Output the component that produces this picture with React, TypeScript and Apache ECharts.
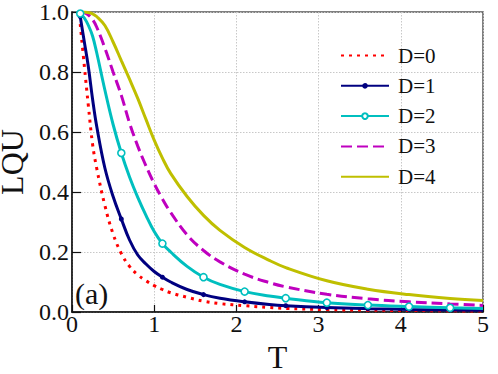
import React, { useEffect, useRef } from "react";
import * as echarts from "echarts";

const tValues = [0.1, 0.15, 0.2, 0.25, 0.3, 0.4, 0.5, 0.6, 0.7, 0.8, 0.9, 1.0, 1.1, 1.2, 1.4, 1.6, 1.8, 2.1, 2.4, 2.6, 3.1, 3.6, 4.1, 4.6, 5.0];
const lquD0 = [0.96, 0.82, 0.685, 0.56, 0.48, 0.355, 0.26, 0.195, 0.152, 0.124, 0.104, 0.088, 0.075, 0.064, 0.049, 0.036, 0.028, 0.021, 0.015, 0.012, 0.008, 0.006, 0.005, 0.004, 0.003];
const lquD1 = [0.985, 0.9, 0.815, 0.71, 0.62, 0.48, 0.385, 0.31, 0.24, 0.19, 0.16, 0.135, 0.116, 0.1, 0.075, 0.058, 0.046, 0.034, 0.025, 0.021, 0.015, 0.0112, 0.0086, 0.0069, 0.0058];
const lquD2 = [0.995, 0.98, 0.955, 0.92, 0.865, 0.74, 0.625, 0.53, 0.45, 0.382, 0.322, 0.268, 0.228, 0.2, 0.152, 0.116, 0.092, 0.068, 0.053, 0.046, 0.031, 0.023, 0.018, 0.014, 0.012];
const lquD3 = [1.0, 0.998, 0.99, 0.975, 0.95, 0.88, 0.8, 0.722, 0.63, 0.553, 0.487, 0.428, 0.377, 0.332, 0.257, 0.205, 0.167, 0.126, 0.098, 0.084, 0.059, 0.044, 0.034, 0.027, 0.022];
const lquD4 = [1.0, 1.0, 0.998, 0.994, 0.985, 0.955, 0.9, 0.838, 0.776, 0.712, 0.642, 0.573, 0.513, 0.462, 0.385, 0.322, 0.272, 0.215, 0.172, 0.148, 0.104, 0.076, 0.058, 0.045, 0.038];
const markerT = [0.1, 0.6, 1.1, 1.6, 2.1, 2.6, 3.1, 3.6, 4.1, 4.6];
const seriesNames = ["D=0", "D=1", "D=2", "D=3", "D=4"];
const xTicks = [0, 1, 2, 3, 4, 5];
const yTicks = [0, 0.2, 0.4, 0.6, 0.8, 1.0];

const FONT = "Liberation Serif";

function buildData(values: number[], withMarkers: boolean) {
  return tValues.map((t, i) => {
    const isMarker = withMarkers && markerT.some((m) => Math.abs(m - t) < 1e-9);
    return isMarker ? { value: [t, values[i]] } : { value: [t, values[i]], symbol: "none" };
  });
}

export default function App() {
  const ref = useRef<HTMLDivElement>(null);
  useEffect(() => {
    if (!ref.current) return;
    const chart = echarts.init(ref.current, null, { renderer: "svg" });
    const baseLine = { type: "line", smooth: 0.4, showAllSymbol: true, z: 2 };
    chart.setOption({
      animation: false,
      backgroundColor: "#ffffff",
      textStyle: { fontFamily: FONT, color: "#111" },
      grid: {
        left: 72,
        top: 12,
        right: 15,
        bottom: 62,
        outerBoundsMode: "none",
        containLabel: false,
        show: true,
        borderColor: "#555",
        borderWidth: 1.5,
        backgroundColor: "transparent",
      },
      legend: {
        orient: "vertical",
        left: 335,
        top: 40,
        itemWidth: 48,
        itemHeight: 7,
        itemGap: 9.3,
        data: seriesNames.map((n, i) => ({
          name: n,
          itemStyle: i === 1 || i === 2 ? undefined : { opacity: 0 },
        })),
        textStyle: { fontFamily: FONT, fontSize: 21, color: "#111", lineHeight: 20, padding: [0, 0, 0, 4] },
      },
      xAxis: {
        type: "value",
        min: xTicks[0],
        max: xTicks[xTicks.length - 1],
        interval: 1,
        name: "T",
        nameLocation: "middle",
        nameGap: 21,
        nameTextStyle: { fontFamily: FONT, fontSize: 32, lineHeight: 32, color: "#111" },
        axisLine: { lineStyle: { color: "#111", width: 1.5 } },
        axisTick: { inside: true, length: 7, lineStyle: { color: "#111", width: 1.2 } },
        axisLabel: { fontFamily: FONT, fontSize: 24, color: "#111", margin: 0 },
        splitLine: { show: true, lineStyle: { color: "#c8c8c8", width: 1, type: [1.5, 1.5] } },
      },
      yAxis: {
        type: "value",
        min: yTicks[0],
        max: yTicks[yTicks.length - 1],
        interval: 0.2,
        name: "LQU",
        nameLocation: "middle",
        nameRotate: 90,
        nameGap: 47,
        nameTextStyle: { fontFamily: FONT, fontSize: 32, lineHeight: 24, color: "#111" },
        axisLine: { show: true, lineStyle: { color: "#111", width: 1.5 } },
        axisTick: { show: true, inside: true, length: 9, lineStyle: { color: "#111", width: 1.2 } },
        axisLabel: { fontFamily: FONT, fontSize: 24, color: "#111", margin: 3, formatter: (v: number) => v.toFixed(1) },
        splitLine: { show: true, lineStyle: { color: "#c8c8c8", width: 1, type: [1.5, 1.5] } },
      },
      graphic: [
        {
          type: "text",
          left: 75,
          top: 278,
          style: { text: "(a)", fontFamily: FONT, fontSize: 30, fill: "#111" },
          z: 10,
        },
      ],
      series: [
        {
          ...baseLine,
          name: seriesNames[0],
          symbol: "none",
          data: buildData(lquD0, false),
          lineStyle: { color: "#ff0000", width: 3, type: [3, 5] },
          itemStyle: { color: "#ff0000" },
        },
        {
          ...baseLine,
          name: seriesNames[1],
          symbol: "circle",
          symbolSize: 5,
          data: buildData(lquD1, true),
          lineStyle: { color: "#000080", width: 3 },
          itemStyle: { color: "#000080", borderColor: "#000080", borderWidth: 0 },
        },
        {
          ...baseLine,
          name: seriesNames[2],
          symbol: "circle",
          symbolSize: 7,
          data: buildData(lquD2, true),
          lineStyle: { color: "#00bfbf", width: 3 },
          itemStyle: { color: "#ffffff", borderColor: "#00bfbf", borderWidth: 1.6 },
        },
        {
          ...baseLine,
          name: seriesNames[3],
          symbol: "none",
          data: buildData(lquD3, false),
          lineStyle: { color: "#bf00bf", width: 3, type: [11, 5] },
          itemStyle: { color: "#bf00bf" },
        },
        {
          ...baseLine,
          name: seriesNames[4],
          symbol: "none",
          data: buildData(lquD4, false),
          lineStyle: { color: "#bfbf00", width: 3 },
          itemStyle: { color: "#bfbf00" },
        },
      ],
    });
    return () => chart.dispose();
  }, []);
  return <div ref={ref} style={{ position: "fixed", left: 0, top: 0, width: 498, height: 374 }} />;
}
